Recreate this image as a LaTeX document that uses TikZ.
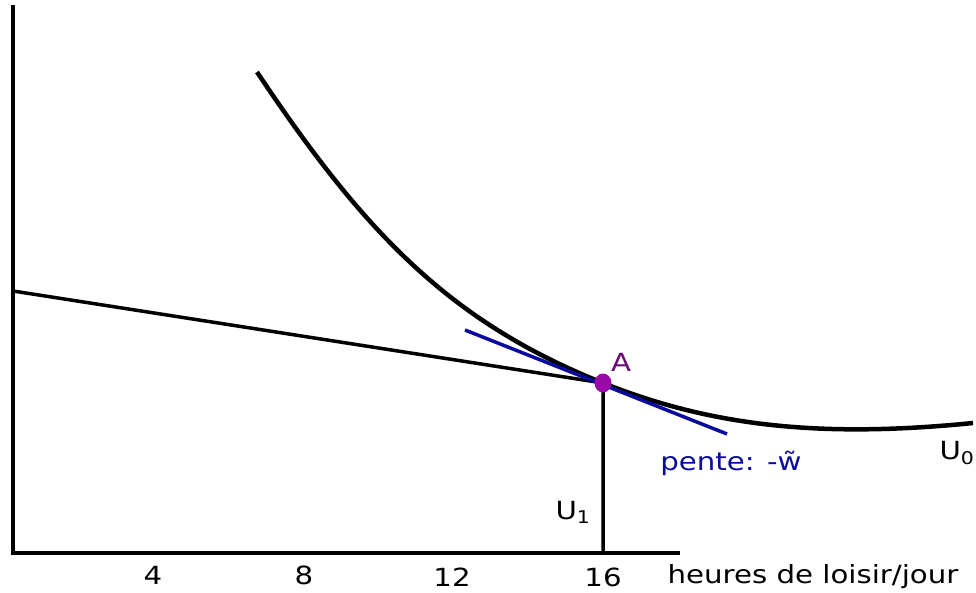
\documentclass[tikz,border=0pt]{standalone}
\usepackage{fontspec}
\setmainfont[FakeStretch=1.17]{DejaVu Sans}
\usetikzlibrary{positioning,calc,shapes.geometric}
\definecolor{lsAxis}{HTML}{000000}
\definecolor{lsSlope}{HTML}{0A0AA0}
\definecolor{lsPoint}{HTML}{9A0AA8}
\definecolor{lsPointText}{HTML}{6A0A70}
\tikzset{
    lsAxisLine/.style={draw=lsAxis, line width=3.5pt},
    lsCurve/.style={draw=lsAxis, line width=4.5pt},
    lsTangent/.style={draw=lsSlope, line width=3.5pt},
    lsTick/.style={font=\fontsize{25}{30}\selectfont, inner sep=0pt},
    lsLabel/.style={font=\fontsize{25}{30}\selectfont, inner sep=0pt},
    lsDot/.style={ellipse, fill=lsPoint, minimum width=17pt, minimum height=19pt, inner sep=0pt}
}
\begin{document}
\begin{tikzpicture}[x=1pt, y=-1pt]
    \useasboundingbox (0,0) rectangle (976,593);
    % axes
    \coordinate (origin) at (13,553);
    \coordinate (ytop) at (13,5);
    \coordinate (xend) at (680,553);
    \draw[lsAxisLine] (ytop) -- (origin) -- (xend);

    % budget constraint
    \coordinate (budgetStart) at (13,291);
    \coordinate (A) at (603,383);
    \coordinate (foot) at (603,553);
    \draw[lsAxisLine] (budgetStart) -- (A) -- (foot);

    % indifference curve U0
    \coordinate (curveStart) at (257,72);
    \coordinate (curveEnd) at (973,423);
    \draw[lsCurve] (curveStart) .. controls (367,237) and (453,323) .. (A)
        .. controls (713,427) and (823,438) .. (curveEnd);

    % tangent
    \coordinate (tanStart) at (465,330);
    \coordinate (tanEnd) at (727,434);
    \draw[lsTangent] (tanStart) -- (tanEnd);

    \node[lsDot] (dotA) at (A) {};
    \node[lsLabel, text=lsPointText] (labelA) at (621,362) {A};
    \node[lsLabel, text=lsSlope] (slope) at (731,463) {pente: -w̃};
    \node[lsLabel] (u0) at (957,453) {U\textsubscript{0}};
    \node[lsLabel] (u1) at (573,512) {U\textsubscript{1}};

    % ticks
    \node[lsTick] (t4) at (153,575) {4};
    \node[lsTick] (t8) at (304,575) {8};
    \node[lsTick] (t12) at (452,577) {12};
    \node[lsTick] (t16) at (603,577) {16};
    \node[lsLabel] (xlabel) at (813,577) {heures de loisir/jour};
\end{tikzpicture}
\end{document}
